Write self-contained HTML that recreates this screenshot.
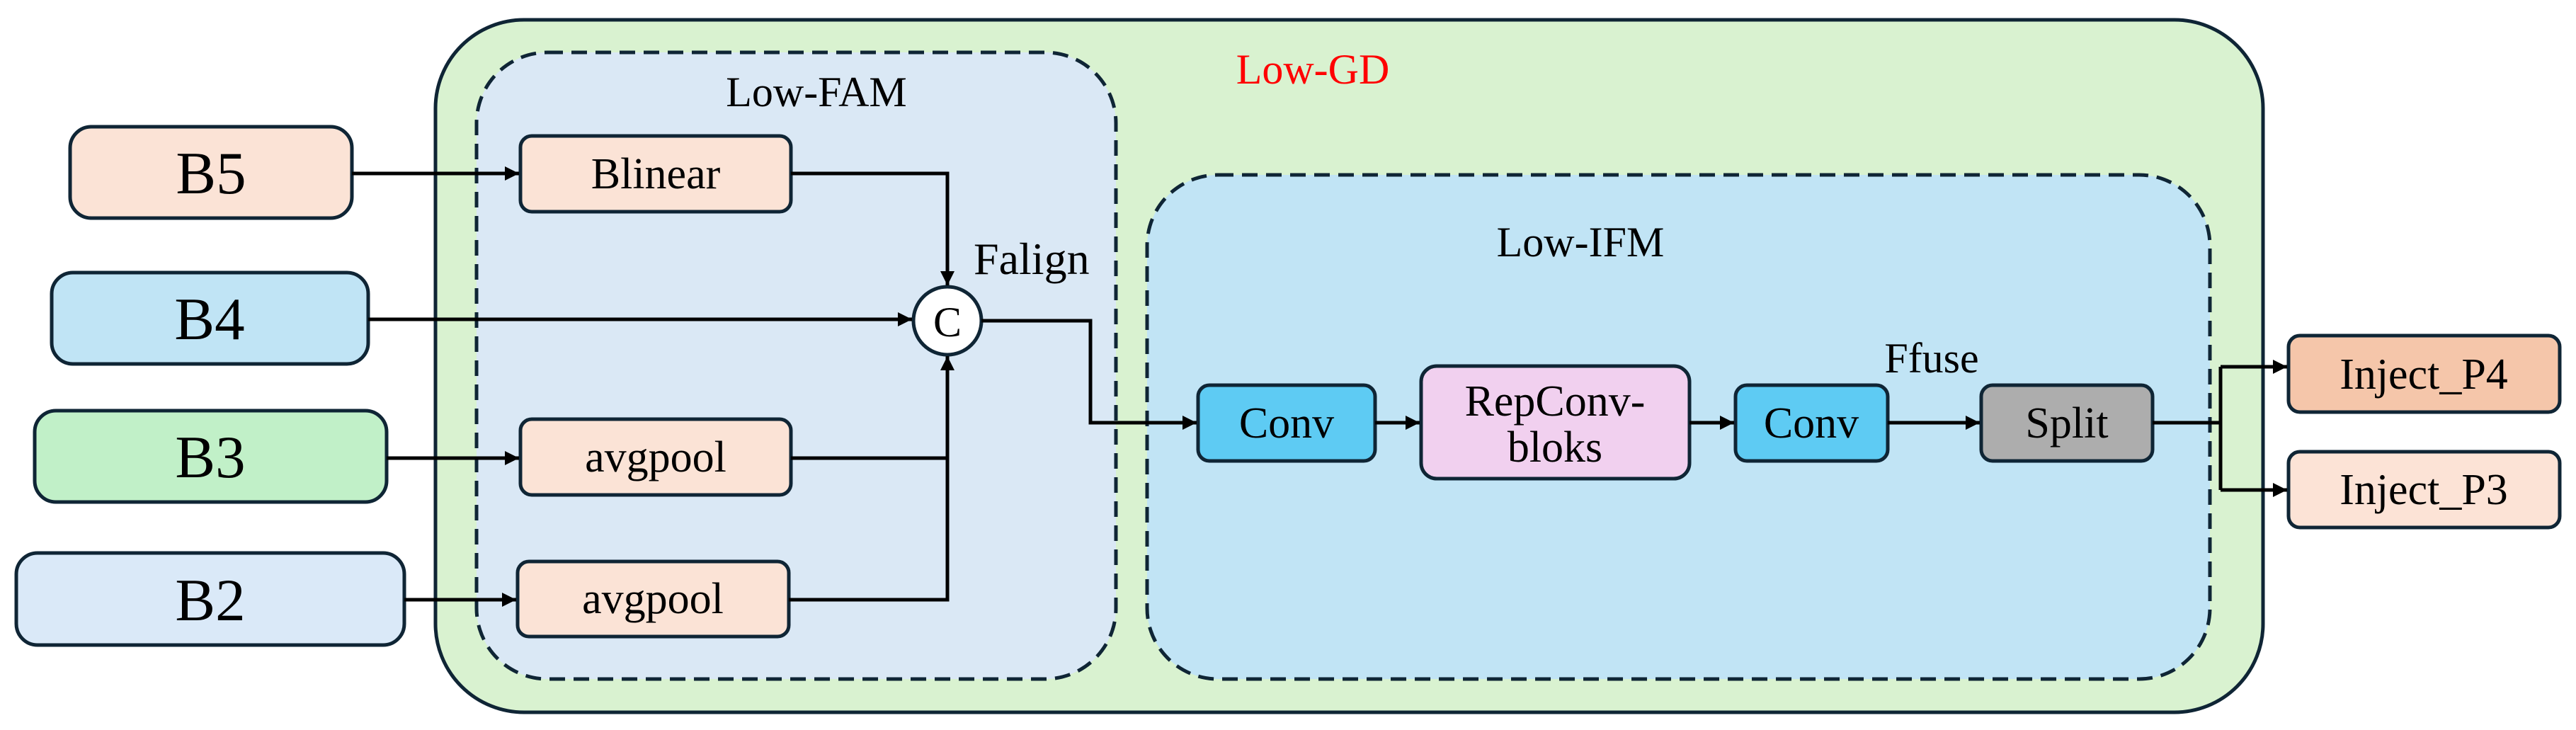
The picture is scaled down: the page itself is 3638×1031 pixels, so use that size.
<!DOCTYPE html>
<html><head><meta charset="utf-8"><style>html,body{margin:0;padding:0;background:#fff}svg{display:block}text{font-family:"Liberation Serif",serif;fill:#000}</style></head>
<body>
<svg width="3638" height="1031" viewBox="0 0 3638 1031" xmlns="http://www.w3.org/2000/svg">
<defs>
<marker id="a" viewBox="0 0 10 10" refX="10" refY="5" markerWidth="4" markerHeight="4" orient="auto" markerUnits="strokeWidth"><path d="M0,0 L10,5 L0,10 z" fill="#000"/></marker>
</defs>
<!-- outer green -->
<rect x="615" y="28" width="2581" height="978" rx="125" ry="125" fill="#d9f2d0" stroke="#0f2535" stroke-width="5"/>
<text x="1854" y="118" font-size="60" text-anchor="middle" style="fill:#ff0000">Low-GD</text>
<!-- Low-FAM -->
<rect x="673" y="74" width="903" height="885" rx="100" ry="100" fill="#dae8f5" stroke="#0f2535" stroke-width="5" stroke-dasharray="22 12"/>
<text x="1153" y="150" font-size="60" text-anchor="middle">Low-FAM</text>
<!-- Low-IFM -->
<rect x="1620" y="247" width="1501" height="712" rx="100" ry="100" fill="#c1e4f5" stroke="#0f2535" stroke-width="5" stroke-dasharray="22 12"/>
<text x="2232" y="362" font-size="60" text-anchor="middle">Low-IFM</text>
<!-- B boxes -->
<g stroke="#0f2535" stroke-width="5">
<rect x="99" y="179" width="398" height="129" rx="30" fill="#fbe3d6"/>
<rect x="73" y="385" width="447" height="129" rx="30" fill="#c0e4f5"/>
<rect x="49" y="580" width="497" height="129" rx="30" fill="#c1f0c8"/>
<rect x="23" y="781" width="548" height="130" rx="30" fill="#dae9f8"/>
<rect x="735" y="192" width="382" height="107" rx="16" fill="#fbe3d6"/>
<rect x="735" y="592" width="382" height="107" rx="16" fill="#fbe3d6"/>
<rect x="731" y="793" width="383" height="106" rx="16" fill="#fbe3d6"/>
<rect x="1692" y="544" width="250" height="107" rx="16" fill="#5ecbf3"/>
<rect x="2007" y="517" width="379" height="159" rx="22" fill="#f1d0ef"/>
<rect x="2451" y="544" width="215" height="107" rx="16" fill="#5ecbf3"/>
<rect x="2798" y="544" width="242" height="107" rx="16" fill="#adadad"/>
<rect x="3232" y="474" width="383" height="108" rx="16" fill="#f5c6aa"/>
<rect x="3232" y="638" width="383" height="107" rx="16" fill="#fce3d6"/>
<circle cx="1338" cy="453" r="48" fill="#fff"/>
</g>
<g font-size="85" text-anchor="middle">
<text x="298" y="273">B5</text>
<text x="296" y="479">B4</text>
<text x="297" y="674">B3</text>
<text x="297" y="876">B2</text>
</g>
<g font-size="62" text-anchor="middle">
<text x="926" y="266">Blinear</text>
<text x="926" y="666">avgpool</text>
<text x="922" y="866">avgpool</text>
<text x="1817" y="618">Conv</text>
<text x="2196" y="587">RepConv-</text>
<text x="2196" y="652">bloks</text>
<text x="2558" y="618">Conv</text>
<text x="2919" y="618">Split</text>
<text x="3423" y="549">Inject_P4</text>
<text x="3423" y="712">Inject_P3</text>
<text x="1338" y="475" font-size="60">C</text>
</g>
<text x="1375" y="387" font-size="64">Falign</text>
<text x="2728" y="526" font-size="60" text-anchor="middle">Ffuse</text>
<!-- connectors -->
<g stroke="#000" stroke-width="5" fill="none">
<path d="M497,245 H733" marker-end="url(#a)"/>
<path d="M520,451 H1288" marker-end="url(#a)"/>
<path d="M546,647 H733" marker-end="url(#a)"/>
<path d="M571,847 H729" marker-end="url(#a)"/>
<path d="M1117,245 H1338 V403" marker-end="url(#a)"/>
<path d="M1117,647 H1338"/>
<path d="M1114,847 H1338 V503" marker-end="url(#a)"/>
<path d="M1386,453 H1540 V597 H1690" marker-end="url(#a)"/>
<path d="M1942,597 H2005" marker-end="url(#a)"/>
<path d="M2386,597 H2449" marker-end="url(#a)"/>
<path d="M2666,597 H2796" marker-end="url(#a)"/>
<path d="M3040,597 H3136"/>
<path d="M3136,518 V692"/>
<path d="M3136,518 H3230" marker-end="url(#a)"/>
<path d="M3136,692 H3230" marker-end="url(#a)"/>
</g>
</svg>
</body></html>
